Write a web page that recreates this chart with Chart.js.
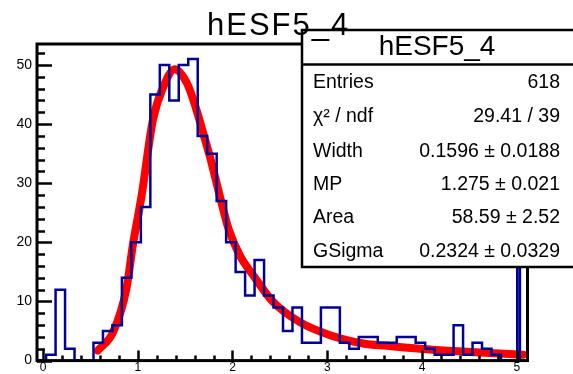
<!DOCTYPE html>
<html>
<head>
<meta charset="utf-8">
<script src="https://cdn.jsdelivr.net/npm/chart.js@4.4.0/dist/chart.umd.min.js"></script>
<style>
html, body { margin: 0; padding: 0; background: #fff; }
canvas { display: block; }
</style>
</head>
<body>
<canvas id="c" width="573" height="374"></canvas>
<script>
// histogram bin edges (x) and contents
const binEdges = [-0.067,
  0.033, 0.133, 0.233, 0.333, 0.433, 0.533, 0.633, 0.733, 0.833, 0.933,
  1.033, 1.133, 1.233, 1.333, 1.433, 1.533, 1.633, 1.733, 1.833, 1.933,
  2.033, 2.133, 2.233, 2.333, 2.433, 2.533, 2.633, 2.733, 2.833, 2.933,
  3.033, 3.133, 3.233, 3.333, 3.433, 3.533, 3.633, 3.733, 3.833, 3.933,
  4.033, 4.133, 4.233, 4.333, 4.433, 4.533, 4.633, 4.733, 4.833, 4.933,
  5.005, 5.033, 5.133];
const binCounts = [0,
  1, 12, 2, 0, 0, 3, 5, 6, 14, 20,
  26, 45, 50, 44, 50, 51, 38, 35, 27, 20,
  15, 11, 17, 11, 9, 5, 9, 3, 3, 9,
  9, 3, 2, 4, 4, 3, 3, 4, 4, 3,
  2, 1, 1, 6, 1, 3, 2, 1, 0, 0,
  70, 0];

// fitted curve (langaus)
const fitX = [0.58, 0.74, 0.88, 0.95, 1.04, 1.16, 1.27, 1.39, 1.52, 1.62, 1.71, 1.76,
  1.87, 1.96, 2.08, 2.22, 2.43, 2.71, 3.03, 3.38, 3.63, 3.98, 4.61, 5.07];
const fitY = [1.7, 4.8, 12.1, 19.7, 27.8, 40.7, 46.3, 49.3, 46.9, 42.4, 37.4, 34.6,
  27.6, 22.2, 17.7, 14.4, 9.9, 6.5, 4.3, 2.9, 2.5, 2.0, 1.35, 1.0];

const xTicks = [0, 1, 2, 3, 4, 5];
const yTicks = [0, 10, 20, 30, 40, 50];

const histTitle = "hESF5_4";
const statNames = ["Entries", "\u03c7\u00b2 / ndf", "Width", "MP", "Area", "GSigma"];
const statValues = ["618", "29.41 / 39", "0.1596 \u00b1 0.0188", "1.275 \u00b1 0.021",
  "58.59 \u00b1 2.52", "0.2324 \u00b1 0.0329"];

const FONT = "'Liberation Sans', Arial, Helvetica, sans-serif";

const histPoints = binCounts.map((c, i) => ({ x: binEdges[i], y: c }));
histPoints.push({ x: binEdges[binEdges.length - 1], y: 0 });
const fitPoints = fitX.map((x, i) => ({ x: x, y: fitY[i] }));

const rootPlugin = {
  id: 'rootStyle',
  afterDatasetsDraw(chart) {
    const ctx = chart.ctx, a = chart.chartArea;
    const xs = chart.scales.x, ys = chart.scales.y;
    ctx.save();
    ctx.strokeStyle = '#000';
    ctx.lineWidth = 2.5;
    ctx.beginPath();
    for (let v = 0; v <= ys.max; v += 2) {
      const py = Math.round(ys.getPixelForValue(v)) + 0.5;
      const len = v % 10 === 0 ? 15 : 8;
      ctx.moveTo(a.left, py);
      ctx.lineTo(a.left + len, py);
    }
    for (let i = 0; i <= 25; i++) {
      const px = Math.round(xs.getPixelForValue(i * 0.2)) + 0.5;
      const len = i % 5 === 0 ? 10 : 5;
      ctx.moveTo(px, a.bottom);
      ctx.lineTo(px, a.bottom - len);
    }
    ctx.stroke();
    ctx.lineWidth = 3;
    ctx.strokeRect(a.left, a.top, a.right - a.left, a.bottom - a.top);
    ctx.restore();
  },
  afterDraw(chart) {
    const ctx = chart.ctx;
    ctx.save();
    // stats box
    ctx.fillStyle = '#fff';
    ctx.fillRect(302, 30, 300, 237);
    ctx.strokeStyle = '#000';
    ctx.lineWidth = 2.5;
    ctx.strokeRect(302, 30, 300, 237);
    ctx.beginPath();
    ctx.moveTo(302, 64.5);
    ctx.lineTo(573, 64.5);
    ctx.stroke();
    ctx.fillStyle = '#000';
    ctx.textBaseline = 'alphabetic';
    ctx.font = '28px ' + FONT;
    ctx.textAlign = 'center';
    ctx.fillText(histTitle, 437, 55);
    ctx.font = '19.5px ' + FONT;
    const base = [88.3, 122, 156.7, 190, 223.3, 256.7];
    statNames.forEach((n, i) => {
      ctx.textAlign = 'left';
      ctx.fillText(n, 313, base[i]);
      ctx.textAlign = 'right';
      ctx.fillText(statValues[i], 560, base[i]);
    });
    // pad title, drawn over everything
    ctx.font = '31px ' + FONT;
    ctx.textAlign = 'left';
    if ('letterSpacing' in ctx) ctx.letterSpacing = '2px';
    ctx.fillText(histTitle, 207, 35);
    ctx.restore();
  }
};

new Chart(document.getElementById('c'), {
  type: 'line',
  data: {
    datasets: [
      {
        data: histPoints,
        stepped: 'before',
        borderColor: '#000099',
        borderWidth: 2.5,
        pointRadius: 0,
        fill: false
      },
      {
        data: fitPoints,
        borderColor: '#ff0000',
        borderWidth: 8,
        borderCapStyle: 'round',
        cubicInterpolationMode: 'monotone',
        pointRadius: 0,
        fill: false
      }
    ]
  },
  options: {
    responsive: false,
    animation: false,
    devicePixelRatio: 1,
    layout: { padding: { left: 0, right: 45.5, top: 44, bottom: 0 } },
    plugins: { legend: { display: false }, tooltip: { enabled: false } },
    scales: {
      x: {
        type: 'linear',
        min: -0.063,
        max: 5.113,
        grid: { display: false, drawTicks: false },
        border: { display: false },
        afterBuildTicks: s => { s.ticks = xTicks.map(v => ({ value: v })); },
        afterFit: s => { s.height = 12; },
        ticks: { padding: 0, color: '#000', font: { family: FONT, size: 12 } }
      },
      y: {
        type: 'linear',
        min: 0,
        max: 53.55,
        grid: { display: false, drawTicks: false },
        border: { display: false },
        afterBuildTicks: s => { s.ticks = yTicks.map(v => ({ value: v })); },
        afterFit: s => { s.width = 37; },
        ticks: { padding: 5, color: '#000', font: { family: FONT, size: 14 } }
      }
    }
  },
  plugins: [rootPlugin]
});
</script>
</body>
</html>
